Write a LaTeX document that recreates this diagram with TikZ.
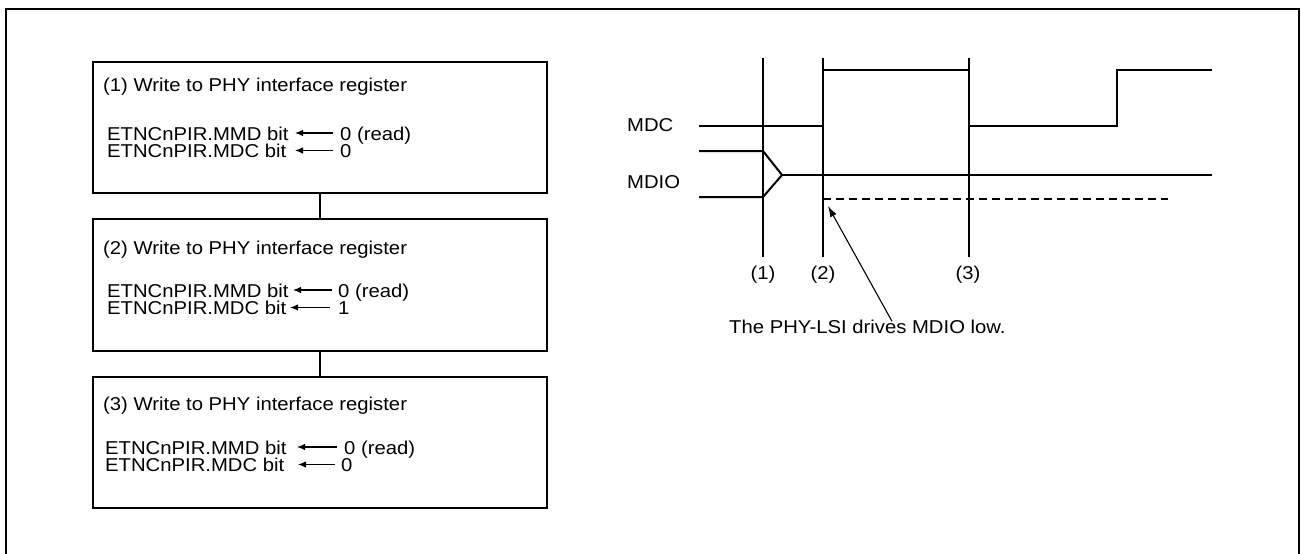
\documentclass[tikz,border=0pt]{standalone}
\usepackage{fontspec}
\setmainfont{Liberation Sans}[FakeStretch=1.09]
\usetikzlibrary{arrows.meta,calc}
\begin{document}
\begin{tikzpicture}[x=1pt,y=-1pt,
  every node/.style={font=\fontsize{18.6}{15.5}\selectfont},
  box/.style={draw, line width=1.3pt, minimum width=454pt, inner sep=0pt},
  txt/.style={inner sep=0pt, anchor=base west},
  lbl/.style={inner sep=0pt, anchor=base},
  sig/.style={line width=2pt},
  vline/.style={line width=1.2pt},
  larr/.style={-{Latex[length=8pt,width=6.5pt]}, line width=1.1pt},
  ptr/.style={-{Latex[length=11pt,width=7pt]}, line width=1.1pt},
  frame/.style={line width=2.4pt}]
\useasboundingbox (0,0) rectangle (1301,554);
% outer frame (open at bottom)
\draw[frame] (6,556) -- (6,9) -- (1299,9) -- (1299,556);

% boxes
\node[box, minimum height=131pt] (b1) at (320,127.5) {};
\node[box, minimum height=132pt] (b2) at (320,285) {};
\node[box, minimum height=131pt] (b3) at (320,442.5) {};
\draw[line width=1.2pt] (b1.south) -- (b2.north);
\draw[line width=1.2pt] (b2.south) -- (b3.north);

% box 1 text
\node[txt] (t1) at (103,91) {(1) Write to PHY interface register};
\node[txt] (a1) at (107,140) {ETNCnPIR.MMD bit};
\node[txt] (c1) at (107,157.5) {ETNCnPIR.MDC bit};
\node[txt] (va1) at (340,140) {0 (read)};
\node[txt] (vc1) at (340,157.5) {0};
\draw[larr] ($(va1.base west)+(-7,-7)$) -- ($(va1.base west)+(-45,-7)$);
\draw[larr] ($(vc1.base west)+(-7,-7)$) -- ($(vc1.base west)+(-45,-7)$);

% box 2 text
\node[txt] (t2) at (103,254) {(2) Write to PHY interface register};
\node[txt] (a2) at (107,297) {ETNCnPIR.MMD bit};
\node[txt] (c2) at (107,314.5) {ETNCnPIR.MDC bit};
\node[txt] (va2) at (338,297) {0 (read)};
\node[txt] (vc2) at (338,314.5) {1};
\draw[larr] ($(va2.base west)+(-6,-7)$) -- ($(va2.base west)+(-45,-7)$);
\draw[larr] ($(vc2.base west)+(-8,-7)$) -- ($(vc2.base west)+(-48,-7)$);

% box 3 text
\node[txt] (t3) at (103,410) {(3) Write to PHY interface register};
\node[txt] (a3) at (105,454) {ETNCnPIR.MMD bit};
\node[txt] (c3) at (105,471.5) {ETNCnPIR.MDC bit};
\node[txt] (va3) at (344,454) {0 (read)};
\node[txt] (vc3) at (341,471.5) {0};
\draw[larr] ($(va3.base west)+(-7,-7)$) -- ($(va3.base west)+(-47,-7)$);
\draw[larr] ($(vc3.base west)+(-6,-7)$) -- ($(vc3.base west)+(-43,-7)$);

% timing diagram
\node[txt] (mdc) at (627,131) {MDC};
\node[txt] (mdio) at (627,188) {MDIO};

\draw[vline] (763,58) -- (763,257);
\draw[vline] (823,58) -- (823,257);
\draw[vline] (969,58) -- (969,257);
\node[lbl] (n1) at (763,279) {(1)};
\node[lbl] (n2) at (823,279) {(2)};
\node[lbl] (n3) at (968,279) {(3)};

\draw[sig] (699,126) -- (823,126) -- (823,70) -- (969,70) -- (969,126) -- (1117,126) -- (1117,70) -- (1212,70);
\draw[sig] (699,151) -- (763,151) -- (782,175) -- (763,197) -- (699,197);
\draw[line width=1.6pt] (782,175) -- (1212,175);
\draw[line width=1.3pt, dash pattern=on 8pt off 5pt] (823,199) -- (1168,199);

\node[txt] (note) at (729,333) {The PHY-LSI drives MDIO low.};
\coordinate (tip) at (828,206);
\draw[ptr] ($(note.north west)+(163,2)$) -- (tip);
\end{tikzpicture}
\end{document}
